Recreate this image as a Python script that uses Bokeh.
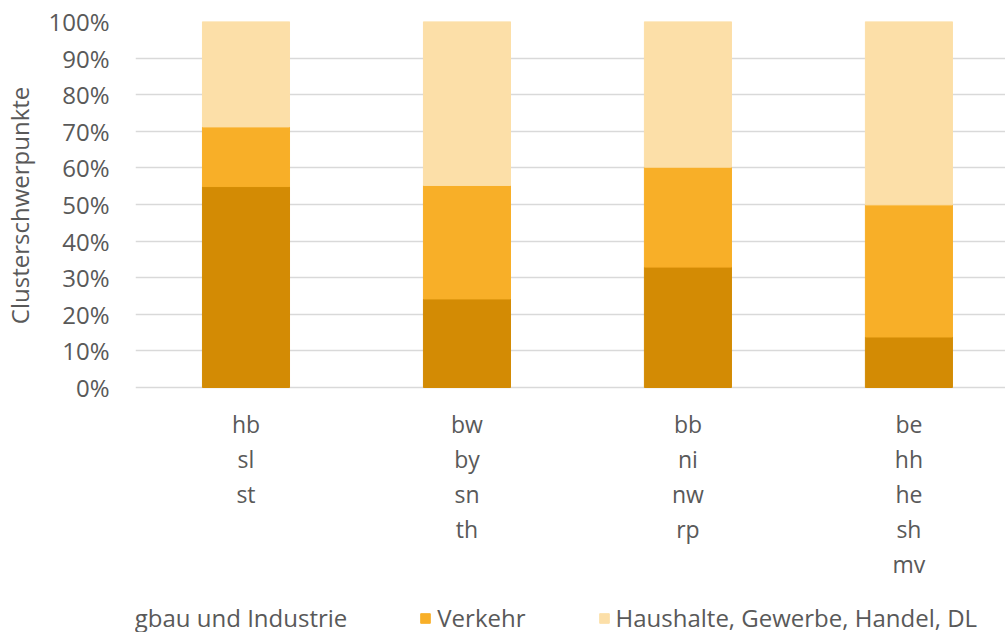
from bokeh.plotting import figure
from bokeh.models import (Range1d, FixedTicker, NumeralTickFormatter, Legend, LegendItem,
                          ColumnDataSource)
from bokeh.core.properties import value
from bokeh.embed import file_html
from bokeh.resources import INLINE

cluster_members = [["hb", "sl", "st"],
                   ["bw", "by", "sn", "th"],
                   ["bb", "ni", "nw", "rp"],
                   ["be", "hh", "he", "sh", "mv"]]
bergbau = [54.9, 24.2, 32.9, 13.8]
verkehr = [16.3, 31.0, 27.3, 36.1]
haushalte = [28.8, 44.8, 39.8, 50.1]
series = ["Bergbau und Industrie", "Verkehr", "Haushalte, Gewerbe, Handel, DL"]
colors = ["#D38B04", "#F8AF28", "#FCDFA8"]
yticks = [0, 10, 20, 30, 40, 50, 60, 70, 80, 90, 100]

xs = list(range(len(cluster_members)))
src = ColumnDataSource(dict(
    x=xs,
    b=[v / 100 for v in bergbau],
    v=[v / 100 for v in verkehr],
    h=[v / 100 for v in haushalte],
))

FONT = "Open Sans"
TXT = "#595959"

# layout: the bar area (0..100%) is 366px tall; the frame continues below it
# so that the category labels and legend sit inside the figure
BAR_PX = 366
FRAME_PX = 611
ymin = -(FRAME_PX - BAR_PX) / BAR_PX

p = figure(frame_width=870, frame_height=FRAME_PX, output_backend="svg", toolbar_location=None,
           x_range=Range1d(-0.5, 3.437), y_range=Range1d(ymin, 1.0),
           min_border_left=100, min_border_right=0, min_border_top=21, min_border_bottom=0)
p.outline_line_color = None
p.background_fill_color = "white"

rs = p.vbar_stack(["b", "v", "h"], x="x", width=0.394, source=src,
                  color=colors, line_color=colors, line_width=1)

# y axis
p.yaxis.ticker = FixedTicker(ticks=[t / 100 for t in yticks])
p.yaxis.formatter = NumeralTickFormatter(format="0%")
p.yaxis.axis_line_color = None
p.yaxis.major_tick_line_color = None
p.yaxis.minor_tick_line_color = None
p.yaxis.major_tick_out = 0
p.yaxis.major_tick_in = 0
p.yaxis.major_label_text_font = FONT
p.yaxis.major_label_text_font_size = "24px"
p.yaxis.major_label_text_color = TXT
p.yaxis.major_label_standoff = 26
p.yaxis.axis_label = "\u00a0" * 39 + "Clusterschwerpunkte"
p.yaxis.axis_label_text_font = FONT
p.yaxis.axis_label_text_font_size = "24px"
p.yaxis.axis_label_text_font_style = "normal"
p.yaxis.axis_label_text_color = TXT
p.yaxis.axis_label_standoff = 9

p.xaxis.visible = False
p.xgrid.grid_line_color = None
p.ygrid.grid_line_color = "#D9D9D9"
p.ygrid.grid_line_width = 1.5

# category labels (one row per member), placed below the 0% line
lx, ly, lt = [], [], []
for i, members in zip(xs, cluster_members):
    for r, m in enumerate(members):
        lx.append(i)
        ly.append(-(36 + 35 * r) / BAR_PX)
        lt.append(m)
p.text(x="x", y="y", text="t", source=ColumnDataSource(dict(x=lx, y=ly, t=lt)),
       text_align="center", text_baseline="middle", text_font=value(FONT),
       text_font_size="23px", text_color=TXT)

legend = Legend(items=[LegendItem(label=s, renderers=[r]) for s, r in zip(series, rs)],
                orientation="horizontal", location=(-57, -2))
legend.label_text_font = FONT
legend.label_text_font_size = "24px"
legend.label_text_color = TXT
legend.glyph_width = 12
legend.glyph_height = 12
legend.label_standoff = 6
legend.spacing = 72
legend.padding = 0
legend.margin = 0
legend.border_line_color = None
legend.background_fill_color = None
p.add_layout(legend, "center")

open("out.html", "w").write(file_html(p, INLINE))
